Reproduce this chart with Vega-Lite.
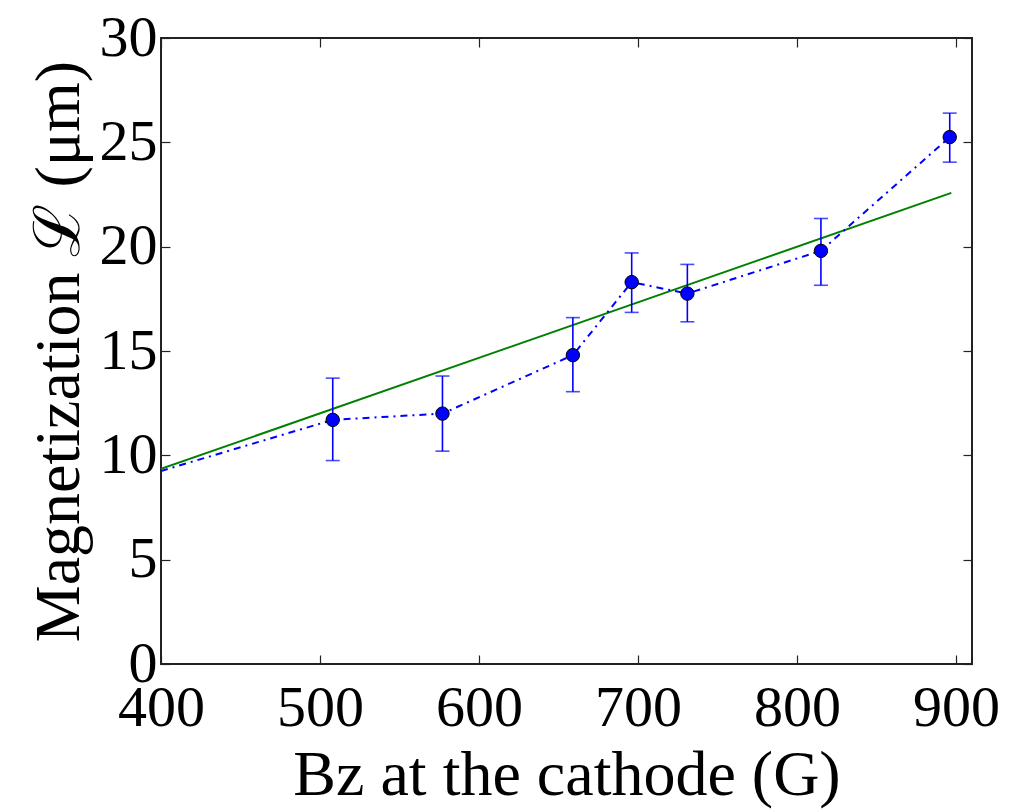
{
  "$schema": "https://vega.github.io/schema/vega-lite/v6.json",
  "width": 811,
  "height": 626,
  "autosize": {"type": "none"},
  "padding": {"left": 161, "top": 38, "right": 41, "bottom": 147},
  "background": "white",
  "config": {
    "view": {"stroke": "#222222", "strokeWidth": 2},
    "font": "Liberation Serif",
    "axis": {
      "grid": false,
      "domain": false,
      "tickColor": "#222222",
      "tickSize": -9,
      "tickWidth": 1.2,
      "labelFont": "Liberation Serif",
      "labelFontSize": 58,
      "labelColor": "#000000",
      "labelFlush": false,
      "labelOverlap": false,
      "titleFont": "Liberation Serif",
      "titleFontSize": 64,
      "titleFontWeight": "normal",
      "titleColor": "#000000"
    }
  },
  "datasets": {
    "pts": [
      {"B": 508, "L": 11.7, "lo": 9.75, "hi": 13.7},
      {"B": 577, "L": 12.0, "lo": 10.2, "hi": 13.8},
      {"B": 659, "L": 14.8, "lo": 13.05, "hi": 16.6},
      {"B": 696, "L": 18.3, "lo": 16.85, "hi": 19.7},
      {"B": 731, "L": 17.75, "lo": 16.4, "hi": 19.15},
      {"B": 815, "L": 19.8, "lo": 18.15, "hi": 21.35},
      {"B": 896, "L": 25.25, "lo": 24.05, "hi": 26.4}
    ],
    "dash": [
      {"B": 400, "L": 9.25},
      {"B": 508, "L": 11.7},
      {"B": 577, "L": 12.0},
      {"B": 659, "L": 14.8},
      {"B": 696, "L": 18.3},
      {"B": 731, "L": 17.75},
      {"B": 815, "L": 19.8},
      {"B": 896, "L": 25.25}
    ],
    "fit": [
      {"B": 400, "L": 9.35},
      {"B": 897, "L": 22.58}
    ]
  },
  "resolve": {"axis": {"x": "independent", "y": "independent"}},
  "layer": [
    {
      "data": {"name": "fit"},
      "mark": {"type": "line", "color": "#008000", "strokeWidth": 2, "clip": true},
      "encoding": {
        "x": {"field": "B", "type": "quantitative", "scale": {"domain": [400, 910], "nice": false, "zero": false},
              "axis": {"title": "Bz at the cathode (G)", "values": [400, 500, 600, 700, 800, 900], "labelPadding": 24, "titlePadding": 6}},
        "y": {"field": "L", "type": "quantitative", "scale": {"domain": [0, 30], "nice": false},
              "axis": {"title": "Magnetization ℒ (μm)", "values": [0, 5, 10, 15, 20, 25, 30], "labelPadding": 13, "titlePadding": 8}}
      }
    },
    {
      "data": {"name": "fit"},
      "mark": {"type": "point", "opacity": 0},
      "encoding": {
        "x": {"field": "B", "type": "quantitative",
              "axis": {"orient": "top", "title": null, "labels": false, "values": [400, 500, 600, 700, 800, 900]}},
        "y": {"field": "L", "type": "quantitative",
              "axis": {"orient": "right", "title": null, "labels": false, "values": [0, 5, 10, 15, 20, 25, 30]}}
      }
    },
    {
      "data": {"name": "dash"},
      "mark": {"type": "line", "color": "#0000ff", "strokeWidth": 2, "strokeDash": [7, 5, 2, 5], "clip": true},
      "encoding": {
        "x": {"field": "B", "type": "quantitative", "axis": null},
        "y": {"field": "L", "type": "quantitative", "axis": null}
      }
    },
    {
      "data": {"name": "pts"},
      "mark": {"type": "errorbar", "color": "#0000ff", "thickness": 1.6, "ticks": {"size": 14, "thickness": 1.6, "color": "#0000ff"}},
      "encoding": {
        "x": {"field": "B", "type": "quantitative", "axis": null},
        "y": {"field": "lo", "type": "quantitative", "axis": null},
        "y2": {"field": "hi"}
      }
    },
    {
      "data": {"name": "pts"},
      "mark": {"type": "point", "filled": true, "fill": "#0000ff", "stroke": "#000000", "strokeWidth": 1, "size": 180, "opacity": 1},
      "encoding": {
        "x": {"field": "B", "type": "quantitative", "axis": null},
        "y": {"field": "L", "type": "quantitative", "axis": null}
      }
    }
  ]
}
